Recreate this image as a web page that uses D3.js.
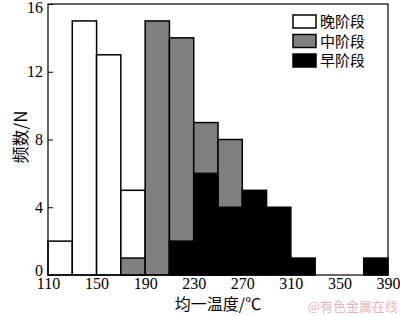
<!DOCTYPE html>
<html>
<head>
<meta charset="utf-8">
<script src="https://cdn.jsdelivr.net/npm/d3@7"></script>
<style>
  body { margin: 0; background: #fff; }
</style>
</head>
<body>
<div id="chart"></div>
<script>
// bin left edges (bin width 20 °C)
const binStarts = [110, 130, 150, 170, 190, 210, 230, 250, 270, 290, 310, 330, 350, 370];
const binWidth = 20;
// counts per stage
const lateCounts  = [2, 15, 13, 5, 0, 0, 0, 0, 0, 0, 0, 0, 0, 0];
const midCounts   = [0, 0, 0, 1, 15, 14, 9, 8, 0, 0, 0, 0, 0, 0];
const earlyCounts = [0, 0, 0, 0, 0, 2, 6, 4, 5, 4, 1, 0, 0, 1];
const seriesNames = ["晚阶段", "中阶段", "早阶段"];
const seriesFills = ["#ffffff", "#808080", "#000000"];
const xTicks = [110, 150, 190, 230, 270, 310, 350, 390];
const yTicks = [0, 4, 8, 12, 16];

const W = 400, H = 316;
const margin = {top: 4, right: 12, bottom: 41, left: 48};

const svg = d3.select("#chart")
  .append("svg")
    .attr("width", W)
    .attr("height", H);

const x = d3.scaleLinear()
  .domain([110, 390])
  .range([margin.left, W - margin.right]);

const y = d3.scaleLinear()
  .domain([0, 16])
  .range([H - margin.bottom, margin.top]);

const serif = "'Liberation Serif', 'Times New Roman', serif";
const cjk = "'Noto Sans CJK SC', sans-serif";

// bars, drawn back to front: late, mid, early
const allSeries = [lateCounts, midCounts, earlyCounts];
allSeries.forEach((counts, i) => {
  svg.append("g")
    .selectAll("rect")
    .data(binStarts.map((b, j) => ({b: b, v: counts[j]})).filter(d => d.v > 0))
    .join("rect")
      .attr("x", d => x(d.b))
      .attr("y", d => y(d.v))
      .attr("width", d => x(d.b + binWidth) - x(d.b))
      .attr("height", d => y(0) - y(d.v))
      .attr("fill", seriesFills[i])
      .attr("stroke", "#000")
      .attr("stroke-width", 1.5);
});

// frame
svg.append("rect")
  .attr("x", x(110))
  .attr("y", y(16))
  .attr("width", x(390) - x(110))
  .attr("height", y(0) - y(16))
  .attr("fill", "none")
  .attr("stroke", "#000")
  .attr("stroke-width", 1.2);

// y axis
const yAxis = svg.append("g")
  .attr("transform", `translate(${margin.left},0)`)
  .call(d3.axisLeft(y).tickValues(yTicks).tickSize(-5).tickPadding(5));
yAxis.select(".domain").remove();
yAxis.selectAll("text")
  .style("font-family", serif)
  .style("font-size", "16px")
  .attr("fill", "#000")
  // end labels sit a little inward, as in the original
  .attr("y", d => d === 0 ? -5 : d === 16 ? 3 : 0);

// x axis
const xAxis = svg.append("g")
  .attr("transform", `translate(0,${y(0)})`)
  .call(d3.axisBottom(x).tickValues(xTicks).tickSize(0).tickPadding(3));
xAxis.select(".domain").remove();
xAxis.selectAll("text")
  .style("font-family", serif)
  .style("font-size", "16px")
  .attr("fill", "#000");

// axis titles
svg.append("text")
  .attr("x", 218)
  .attr("y", 310)
  .attr("text-anchor", "middle")
  .style("font-family", cjk)
  .style("font-size", "16px")
  .text("均一温度/℃");

svg.append("text")
  .attr("transform", "translate(27,137) rotate(-90)")
  .attr("text-anchor", "middle")
  .style("font-family", cjk)
  .style("font-size", "17px")
  .text("频数/N");

// legend
const legend = svg.append("g")
  .attr("transform", "translate(293,15)");
seriesNames.forEach((name, i) => {
  const row = legend.append("g").attr("transform", `translate(0,${i * 19.5})`);
  row.append("rect")
    .attr("width", 23)
    .attr("height", 13)
    .attr("fill", seriesFills[i])
    .attr("stroke", "#000")
    .attr("stroke-width", 1.5);
  row.append("text")
    .attr("x", 27)
    .attr("y", 12)
    .style("font-family", cjk)
    .style("font-size", "15px")
    .text(name);
});

// watermark
svg.append("text")
  .attr("x", 398)
  .attr("y", 311)
  .attr("text-anchor", "end")
  .attr("fill", "#f0b4bc")
  .style("font-family", cjk)
  .style("font-size", "13px")
  .text("@有色金属在线");
</script>
</body>
</html>
